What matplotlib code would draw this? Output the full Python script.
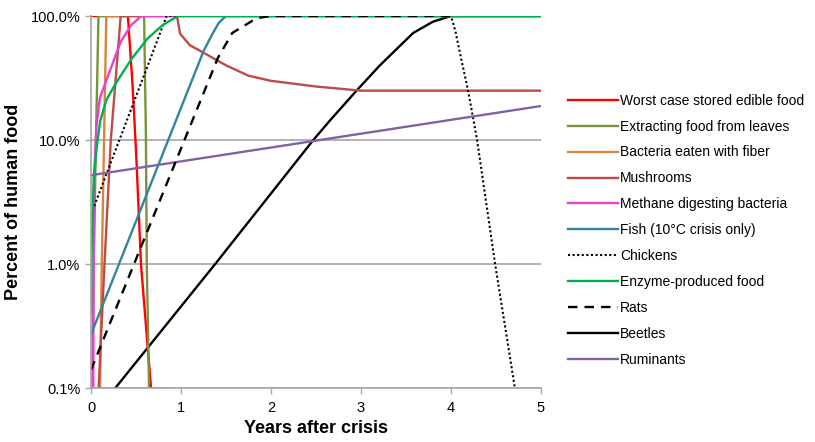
import matplotlib
matplotlib.use("Agg")
import matplotlib.pyplot as plt
from matplotlib.ticker import FixedLocator, FuncFormatter, NullLocator

plt.rcParams['font.family'] = ['Liberation Sans', 'DejaVu Sans']

# years after crisis / fraction of human food
worst_x = [0, 0.41, 0.46, 0.50, 0.556, 0.667]
worst_y = [1, 1, 0.29, 0.083, 0.0098, 0.001]

leaves_x = [0.01, 0.03, 0.055, 0.083, 0.59, 0.61, 0.62, 0.645]
leaves_y = [0.001, 0.01, 0.1, 1, 1, 0.11, 0.01, 0.001]

bacteria_x = [0.10, 0.12, 0.145, 0.17, 5]
bacteria_y = [0.001, 0.01, 0.1, 1, 1]

mush_x = [0.085, 0.15, 0.22, 0.33, 0.955, 0.99, 1.05, 1.1, 1.2, 1.5, 1.75, 2.0, 2.5, 3.0, 3.5, 5]
mush_y = [0.001, 0.01, 0.1, 1, 1, 0.72, 0.64, 0.58, 0.53, 0.40, 0.33, 0.30, 0.27, 0.25, 0.25, 0.25]

methane_x = [0.025, 0.03, 0.04, 0.06, 0.1, 0.19, 0.33, 0.45, 0.56, 5]
methane_y = [0.001, 0.01, 0.06, 0.13, 0.22, 0.33, 0.62, 0.85, 1, 1]

fish_x = [0, 1.25, 1.35, 1.42, 1.5, 5]
fish_y = [0.0027, 0.52, 0.72, 0.88, 1, 1]

chick_x = [0, 0.84, 4.0, 4.05, 4.1, 4.19, 4.29, 4.49, 4.71]
chick_y = [0.025, 1, 1, 0.75, 0.5, 0.25, 0.1, 0.01, 0.001]

enzyme_x = [0, 0.005, 0.03, 0.06, 0.1, 0.17, 0.28, 0.45, 0.63, 0.8, 0.97, 5]
enzyme_y = [0.004, 0.011, 0.05, 0.083, 0.14, 0.21, 0.29, 0.45, 0.66, 0.85, 1, 1]

rats_x = [0, 1.41, 1.57, 1.84, 2.0, 4.0]
rats_y = [0.0014, 0.46, 0.73, 0.96, 1, 1]

beetle_x = [0.27, 1.38, 2.47, 2.66, 2.95, 3.21, 3.58, 3.8, 4.0, 5]
beetle_y = [0.001, 0.01, 0.1, 0.145, 0.25, 0.40, 0.73, 0.9, 1, 1]

rumin_x = [0, 5]
rumin_y = [0.052, 0.188]

y_ticks = [0.001, 0.01, 0.1, 1]
x_ticks = [0, 1, 2, 3, 4, 5]

fig = plt.figure(figsize=(8.15, 4.42), dpi=100)
ax = fig.add_axes([91/815, 1-388/442, 450/815, 372/442])

lw = 1.7
ax.plot(worst_x, worst_y, color='#FF0000', lw=lw, label='Worst case stored edible food')
ax.plot(leaves_x, leaves_y, color='#77933C', lw=lw, label='Extracting food from leaves')
ax.plot(bacteria_x, bacteria_y, color='#D9843C', lw=lw, label='Bacteria eaten with fiber')
ax.plot(mush_x, mush_y, color='#BE4B48', lw=lw, label='Mushrooms')
ax.plot(methane_x, methane_y, color='#EB3ED2', lw=lw, label='Methane digesting bacteria')
ax.plot(fish_x, fish_y, color='#31859C', lw=lw, label='Fish (10°C crisis only)')
ax.plot(chick_x, chick_y, color='black', lw=1.5, ls=(0, (1, 1.2)), label='Chickens')
ax.plot(enzyme_x, enzyme_y, color='#00B050', lw=lw, label='Enzyme-produced food')
ax.plot(rats_x, rats_y, color='black', lw=lw, ls=(0, (4, 3)), label='Rats', zorder=2.1)
ax.plot(beetle_x, beetle_y, color='black', lw=lw, label='Beetles', zorder=1.9)
ax.plot(rumin_x, rumin_y, color='#8064A2', lw=lw, label='Ruminants')

ax.set_yscale('log')
ax.set_ylim(0.001, 1)
ax.set_xlim(0, 5)
ax.yaxis.set_major_locator(FixedLocator(y_ticks))
ax.yaxis.set_minor_locator(NullLocator())
ax.yaxis.set_major_formatter(FuncFormatter(lambda v, p: '{:.1%}'.format(v)))
ax.set_xticks(x_ticks)
ax.grid(True, axis='y', color='#A6A6A6', lw=1.2, zorder=0)
ax.set_axisbelow(True)

for s in ['top', 'right']:
    ax.spines[s].set_visible(False)
for s in ['left', 'bottom']:
    ax.spines[s].set_color('#A6A6A6')
    ax.spines[s].set_linewidth(1.2)
ax.tick_params(axis='both', colors='#A6A6A6', labelcolor='black', labelsize=10.5, length=4, width=1)
ax.tick_params(axis='x', pad=5)

ax.set_xlabel('Years after crisis', fontsize=13, fontweight='bold', labelpad=4)
ax.set_ylabel('Percent of human food', fontsize=13, fontweight='bold', labelpad=6)

fig.legend(loc='upper left', bbox_to_anchor=(562/815, 1-88/442), frameon=False, fontsize=10,
           handlelength=3.6, handletextpad=0.2, labelspacing=0.86, borderaxespad=0)

fig.savefig('out.png', dpi=100)
